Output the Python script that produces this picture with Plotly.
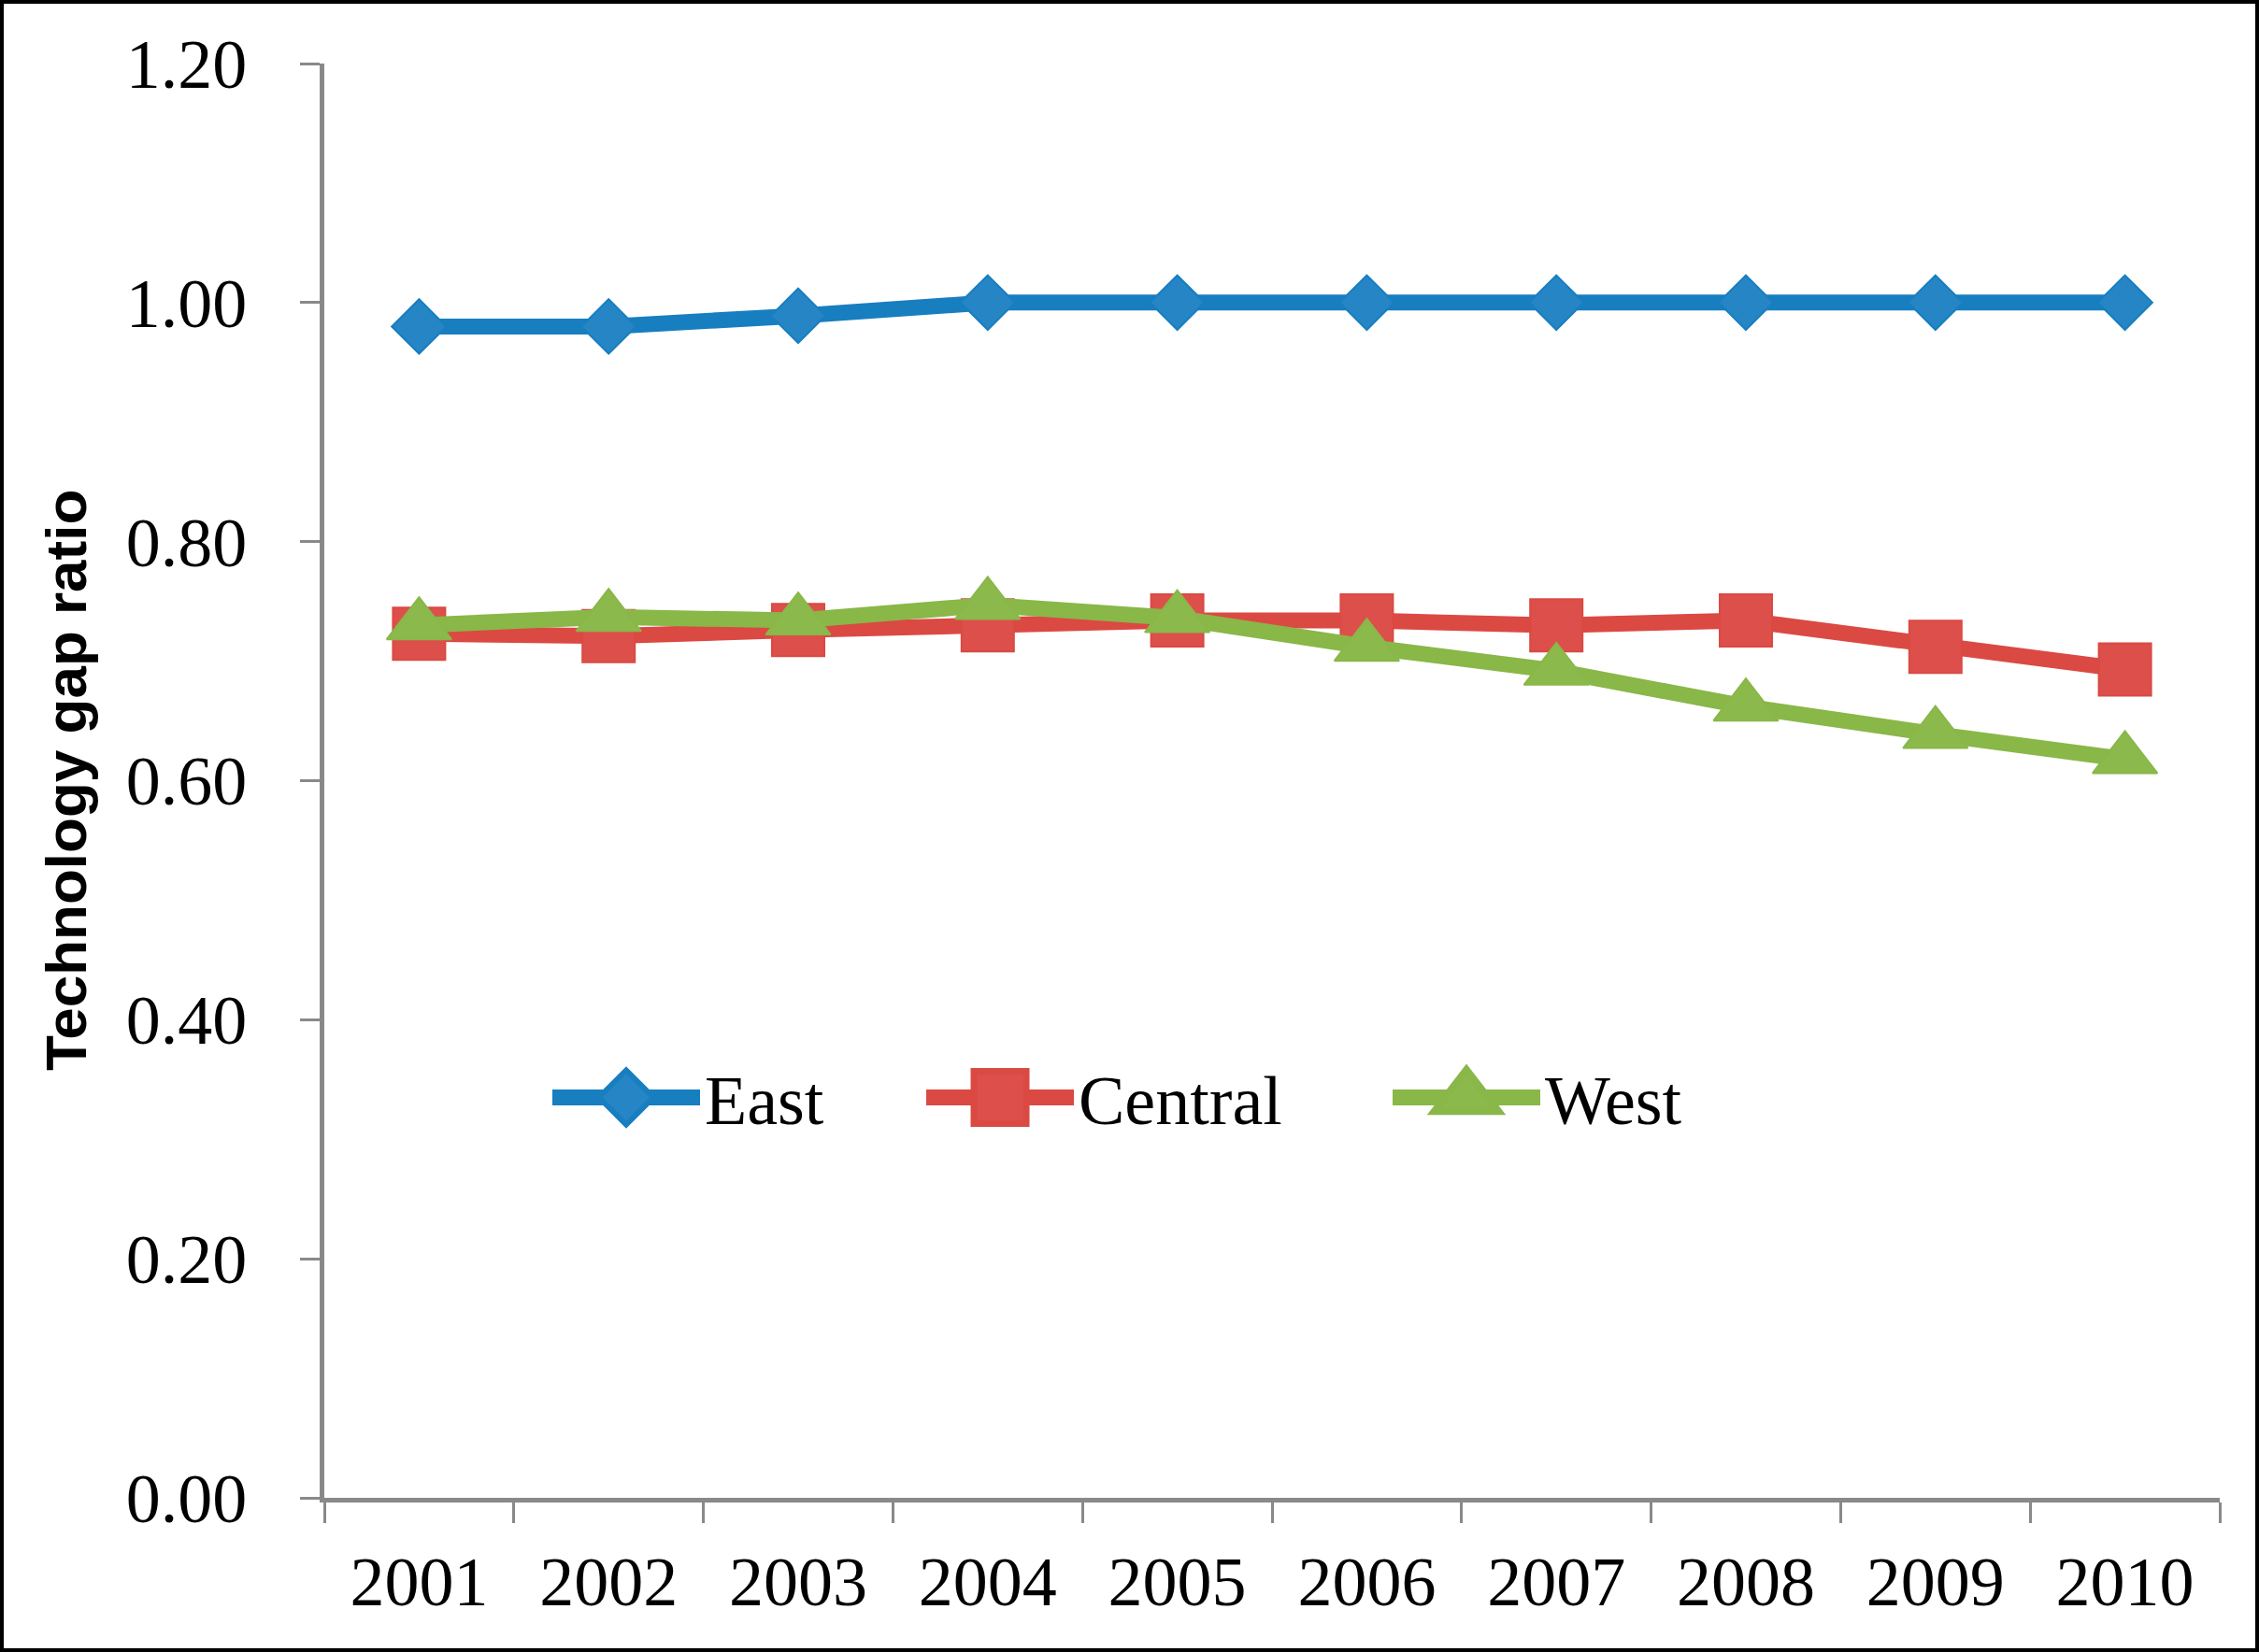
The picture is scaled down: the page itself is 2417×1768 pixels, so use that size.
import plotly.graph_objects as go

# ---- data ----
years = ["2001", "2002", "2003", "2004", "2005", "2006", "2007", "2008", "2009", "2010"]
east = [0.980, 0.980, 0.989, 1.000, 1.000, 1.000, 1.000, 1.000, 1.000, 1.000]
central = [0.723, 0.721, 0.726, 0.730, 0.734, 0.734, 0.730, 0.734, 0.712, 0.693]
west = [0.730, 0.737, 0.734, 0.747, 0.736, 0.712, 0.692, 0.662, 0.639, 0.618]
y_tick_vals = [0.0, 0.2, 0.4, 0.6, 0.8, 1.0, 1.2]
y_tick_text = ["0.00", "0.20", "0.40", "0.60", "0.80", "1.00", "1.20"]
series_names = ["East", "Central", "West"]
y_title = "Technology gap ratio"

W, H = 2417, 1768
ML, MR, MT, MB = 347, 42, 68, 165
PW, PH = W - ML - MR, H - MT - MB

serif = "Liberation Serif, Times New Roman, serif"
axis_grey = "#898989"

fig = go.Figure()
fig.add_trace(go.Scatter(
    x=years, y=east, name=series_names[0], mode="lines+markers",
    line=dict(color="#177EC0", width=17), legendwidth=227,
    marker=dict(symbol="diamond", size=45, color="#2685C5",
                line=dict(color="#177EC0", width=2)),
))
fig.add_trace(go.Scatter(
    x=years, y=central, name=series_names[1], mode="lines+markers",
    line=dict(color="#DB4943", width=17), legendwidth=326,
    marker=dict(symbol="square", size=56, color="#DD4F4B",
                line=dict(color="#DB4943", width=2)),
))
fig.add_trace(go.Scatter(
    x=years, y=west, name=series_names[2], mode="lines+markers",
    line=dict(color="#89B748", width=17), legendwidth=300,
    marker=dict(symbol="triangle-up", size=60, color="#8BB94B",
                line=dict(color="#89B748", width=2)),
))

fig.update_layout(
    width=W, height=H,
    margin=dict(l=ML, r=MR, t=MT, b=MB, pad=0),
    paper_bgcolor="white", plot_bgcolor="white",
    showlegend=True,
    legend=dict(
        orientation="h", x=(586 - ML) / PW, xanchor="left",
        y=(H - MB - 1175) / PH, yanchor="middle",
        itemwidth=158, font=dict(family=serif, size=74, color="black"),
        bgcolor="rgba(0,0,0,0)", traceorder="normal",
    ),
    xaxis=dict(
        type="category", range=[-0.5, 9.5], tickson="boundaries",
        ticks="outside", ticklen=22, tickwidth=3, tickcolor=axis_grey,
        showline=True, linewidth=5, linecolor=axis_grey,
        showgrid=False, zeroline=False,
        tickfont=dict(family=serif, size=74, color="black"),
        ticklabelstandoff=21,
    ),
    yaxis=dict(
        range=[0, 1.2], tickvals=y_tick_vals, ticktext=y_tick_text,
        ticks="outside", ticklen=21, tickwidth=3, tickcolor=axis_grey,
        showline=True, linewidth=5, linecolor=axis_grey,
        showgrid=False, zeroline=False,
        tickfont=dict(family=serif, size=74, color="black"),
        ticklabelstandoff=42,
    ),
    annotations=[dict(
        text="<b>" + y_title + "</b>", textangle=-90,
        xref="paper", yref="paper", x=(70 - ML) / PW, y=(H - MB - 835) / PH,
        xanchor="center", yanchor="middle", showarrow=False,
        font=dict(family="Liberation Sans, Arial, sans-serif", size=62, color="black"),
    )],
    shapes=[dict(
        type="rect", xref="paper", yref="paper",
        x0=(2 - ML) / PW, x1=(W - 2 - ML) / PW,
        y0=(H - MB - (H - 2)) / PH, y1=(H - MB - 2) / PH,
        line=dict(color="black", width=4), fillcolor="rgba(0,0,0,0)", layer="above",
    )],
)

post = """
document.body.style.margin = '0';
document.body.style.overflow = 'hidden';
var gd = document.getElementById('{plot_id}');
var scales = [45/16, 56/16, 60/16];
gd.querySelectorAll('.legend .traces').forEach(function(t, i) {
  t.querySelectorAll('.legendlines path').forEach(function(p) {
    p.style.strokeWidth = '17px';
  });
  t.querySelectorAll('.legendpoints path').forEach(function(p) {
    var tr = p.getAttribute('transform') || '';
    p.setAttribute('transform', tr + ' scale(' + scales[i] + ')');
  });
});
"""

fig.write_html("out.html", post_script=post, config={"displayModeBar": False})
